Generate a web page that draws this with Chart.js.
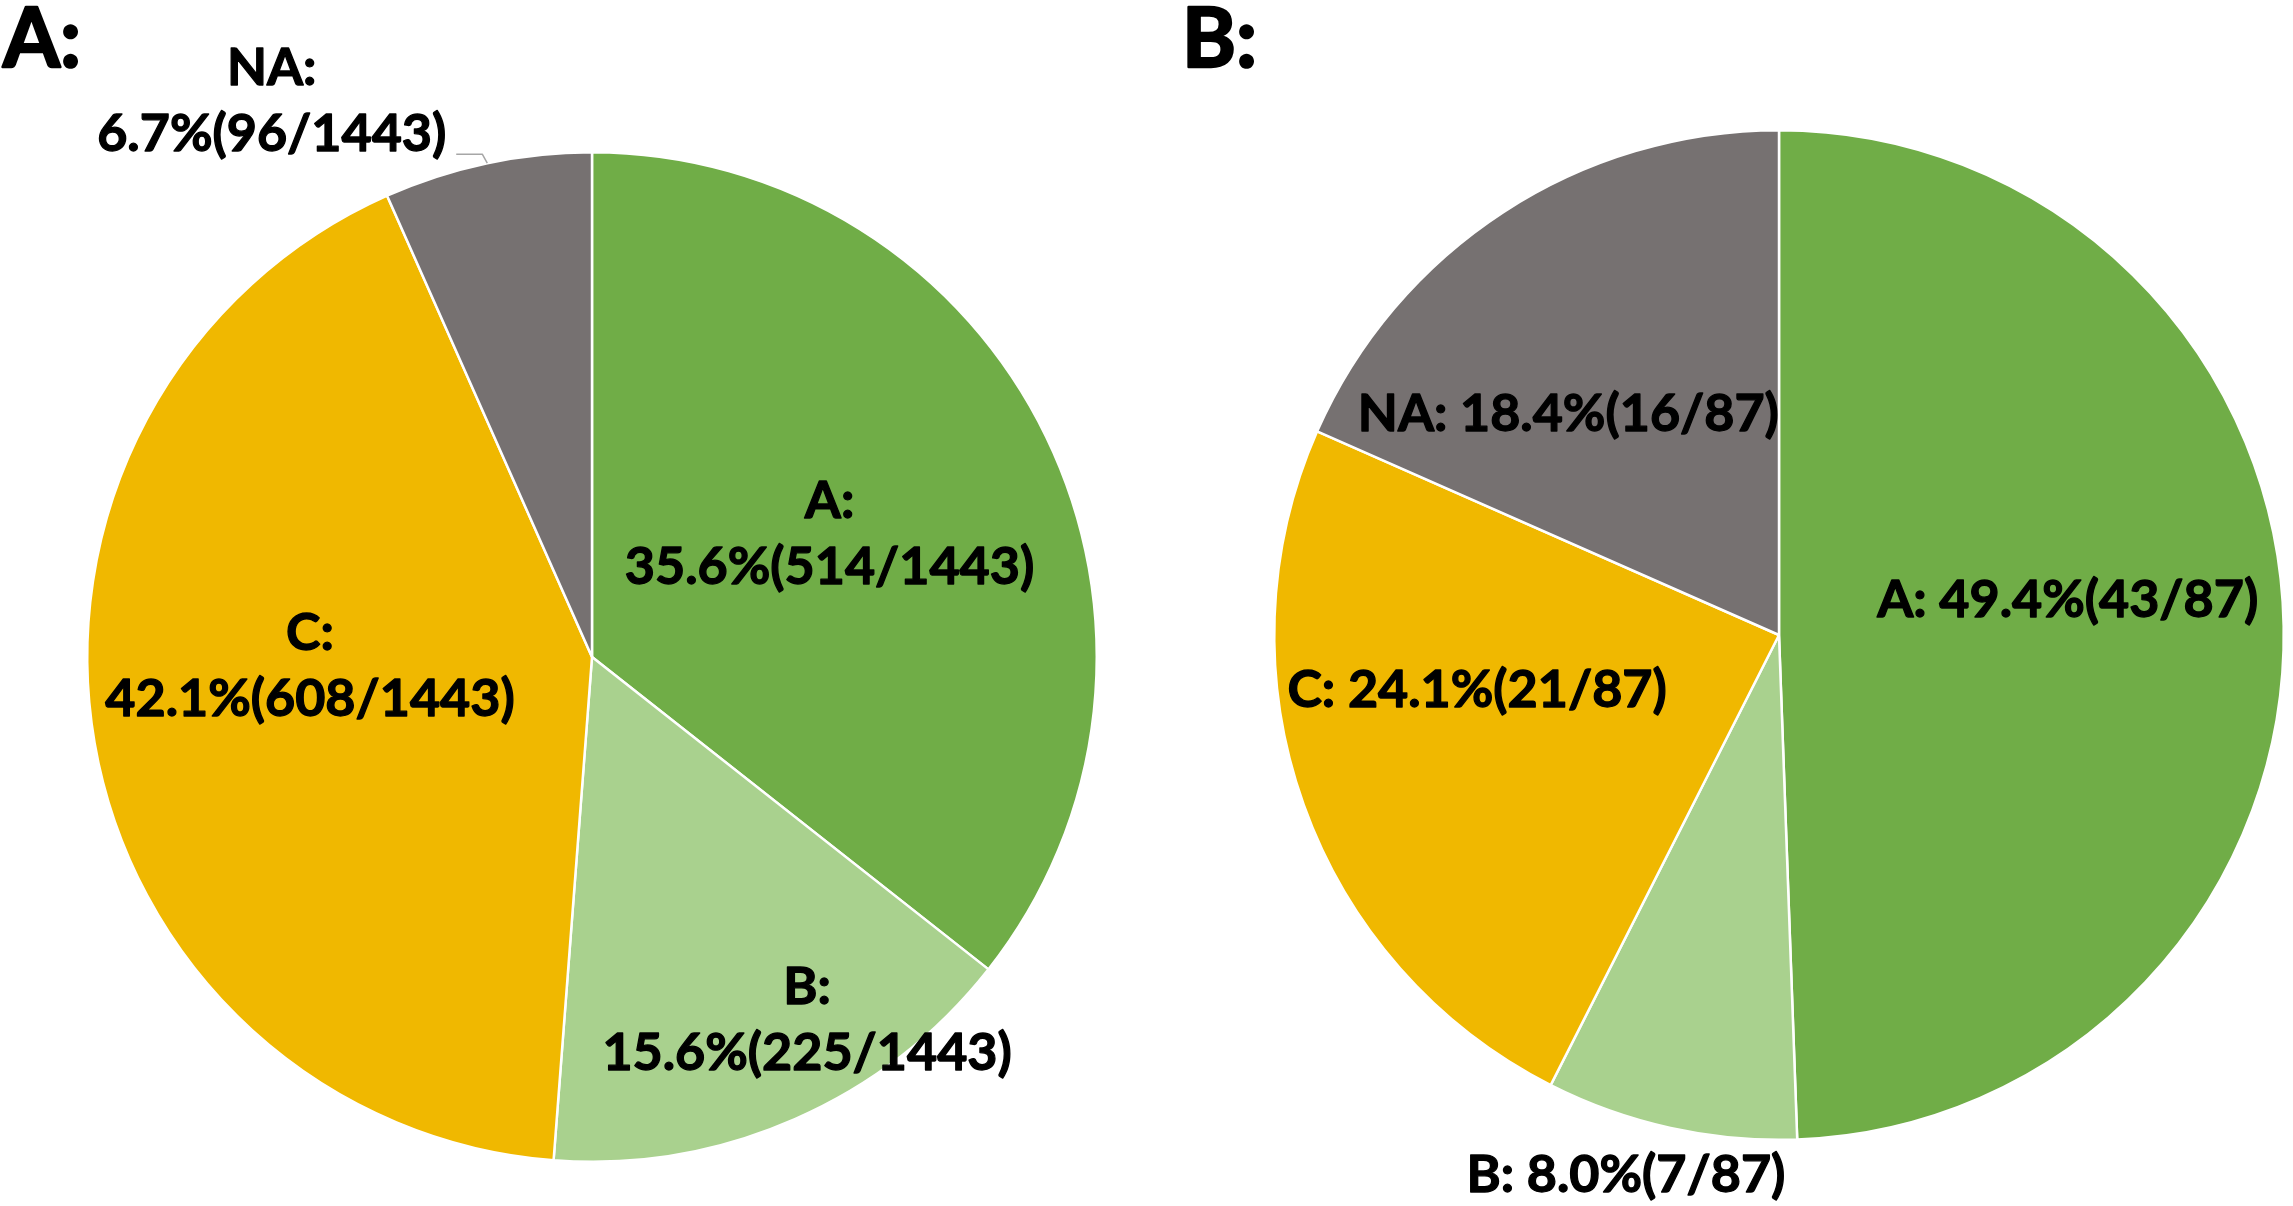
<!DOCTYPE html>
<html>
<head>
<meta charset="utf-8">
<script src="https://cdn.jsdelivr.net/npm/chart.js@4.4.1/dist/chart.umd.min.js"></script>
<style>
    html, body { margin: 0; padding: 0; background: #fff; }
    #wrap { position: relative; width: 2293px; height: 1206px; overflow: hidden; }
    canvas { position: absolute; top: 0; }
</style>
</head>
<body>
<div id="wrap">
    <canvas id="pieA" width="1184" height="1206" style="left:0"></canvas>
    <canvas id="pieB" width="1109" height="1206" style="left:1184px"></canvas>
</div>
<script>
// data
const categories = ["A", "B", "C", "NA"];
const countsA = [514, 225, 608, 96];
const countsB = [43, 7, 21, 16];
const panelTitles = ["A:", "B:"];

const sliceColors = ["#70AD47", "#A9D18E", "#F0B800", "#767171"];

// where each label sits: [fraction of radius, angle shift in degrees, two lines?]
const placeA = [[0.53, -1.5, true], [0.837, -6.9, true], [0.559, 7.9, true], [1.27, -18, true]];
const placeB = [[0.576, -5.8, false], [1.113, 3.4, false], [0.608, 9.3, false], [0.604, -10.6, false]];

const labelFont = "bold 52px Lato";
const lineGap = 66;

// bold text, a touch heavier to look like the original
function heavyText(ctx, s, x, y, w) {
    ctx.lineWidth = w;
    ctx.strokeStyle = "#000";
    ctx.lineJoin = "round";
    ctx.strokeText(s, x, y);
    ctx.fillText(s, x, y);
}

const sliceLabels = {
    id: "sliceLabels",
    afterDatasetsDraw(chart, args, opts) {
        const ctx = chart.ctx;
        const meta = chart.getDatasetMeta(0);
        const values = chart.data.datasets[0].data;
        const total = values.reduce((a, b) => a + b, 0);
        ctx.save();
        ctx.fillStyle = "#000";
        ctx.textAlign = "center";
        ctx.textBaseline = "middle";
        ctx.font = labelFont;
        meta.data.forEach((arc, i) => {
            const p = opts.place[i];
            const mid = (arc.startAngle + arc.endAngle) / 2;
            const ang = mid + p[1] * Math.PI / 180;
            const r = arc.outerRadius * p[0];
            const x = arc.x + Math.cos(ang) * r;
            const y = arc.y + Math.sin(ang) * r;
            const name = chart.data.labels[i] + ":";
            const pct = (values[i] / total * 100).toFixed(1) + "%(" + values[i] + "/" + total + ")";
            if (p[2]) {
                heavyText(ctx, name, x, y - lineGap / 2, 1.3);
                heavyText(ctx, pct, x, y + lineGap / 2, 1.3);
            } else {
                heavyText(ctx, name + " " + pct, x, y, 1.3);
            }
            // leader line for labels that sit outside the pie
            if (p[0] > 1 && opts.leader) {
                const w = ctx.measureText(pct).width;
                const ex = arc.x + Math.cos(mid) * arc.outerRadius;
                const ey = arc.y + Math.sin(mid) * arc.outerRadius;
                const ly = ey - 9;
                ctx.strokeStyle = "#A6A6A6";
                ctx.lineWidth = 1.5;
                ctx.beginPath();
                ctx.moveTo(ex, ey);
                ctx.lineTo(ex - 5, ly);
                ctx.lineTo(x + w / 2 + 10, ly);
                ctx.stroke();
            }
        });
        // panel letter
        ctx.fillStyle = "#000";
        ctx.textAlign = "left";
        ctx.textBaseline = "top";
        ctx.font = "bold 82px Lato";
        heavyText(ctx, opts.title, opts.titleX, 0, 2.5);
        ctx.restore();
    }
};

function pieChart(id, counts, place, title, titleX, padding, leader) {
    const canvas = document.getElementById(id);
    const ctx = canvas.getContext("2d");
    const myChart = new Chart(ctx, {
        type: "pie",
        data: {
            labels: categories,
            datasets: [
                {
                    data: counts,
                    backgroundColor: sliceColors,
                    borderColor: "#ffffff",
                    borderWidth: 2.5,
                },
            ],
        },
        options: {
            responsive: false,
            animation: false,
            layout: { padding: padding },
            plugins: {
                legend: { display: false },
                tooltip: { enabled: false },
                sliceLabels: { place: place, title: title, titleX: titleX, leader: leader },
            },
        },
        plugins: [sliceLabels],
    });
}

pieChart("pieA", countsA, placeA, panelTitles[0], 3, { left: 86, right: 86, top: 151, bottom: 43 }, true);
pieChart("pieB", countsB, placeB, panelTitles[1], -2, { left: 89, right: 8, top: 129, bottom: 65 }, false);
</script>
</body>
</html>
